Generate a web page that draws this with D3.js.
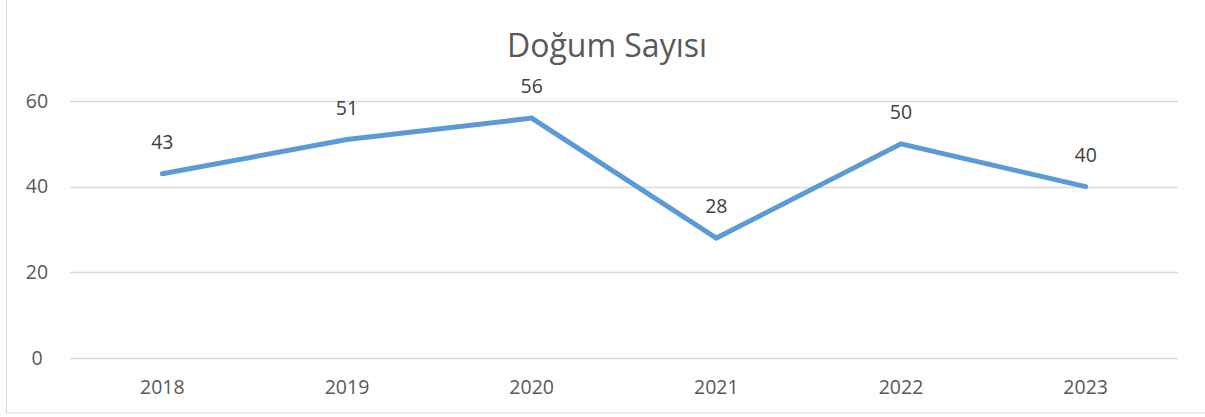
<!DOCTYPE html>
<html><head><meta charset="utf-8">
<script src="https://cdn.jsdelivr.net/npm/d3@7/dist/d3.min.js"></script>
<style>body{margin:0;background:#fff}svg{display:block}</style>
</head><body>
<svg id="c" width="1205" height="417"></svg>
<script>
const categories = ["2018","2019","2020","2021","2022","2023"];
const values = [43,51,56,28,50,40];
const yTicks = [0,20,40,60];
const title = "Doğum Sayısı";

const svg = d3.select("#c");
const W = 1205, H = 417;
const font = "'Open Sans', 'Noto Sans', sans-serif";
svg.append("rect").attr("x",6.5).attr("y",-1).attr("width",W).attr("height",414)
  .attr("fill","#fff").attr("stroke","#d9d9d9").attr("stroke-width",1);

const x = d3.scaleBand().domain(categories).range([70,1178]);
const y = d3.scaleLinear().domain([0,60]).range([358,101]);

const grid = svg.append("g");
grid.selectAll("line").data(yTicks).join("line")
  .attr("x1",70).attr("x2",1178)
  .attr("y1",d=>Math.round(y(d))+0.5).attr("y2",d=>Math.round(y(d))+0.5)
  .attr("stroke","#d9d9d9").attr("stroke-width",1.5);

const yAxis = d3.axisLeft(y).tickValues(yTicks).tickSize(0).tickPadding(13);
const ya = svg.append("g").attr("transform","translate(50,0)").call(yAxis);
ya.select(".domain").remove();
ya.selectAll("text").attr("fill","#595959").style("font-family",font).style("font-size","19.5px").attr("text-anchor","middle");

const xAxis = d3.axisBottom(x).tickSize(0).tickPadding(22);
const xa = svg.append("g").attr("transform","translate(0,358)").call(xAxis);
xa.select(".domain").remove();
xa.selectAll("text").attr("fill","#595959").style("font-family",font).style("font-size","19.5px");

const cx = d => x(d) + x.bandwidth()/2;
const line = d3.line().x((d,i)=>cx(categories[i])).y(d=>y(d));
svg.append("path").datum(values).attr("d",line).attr("fill","none")
  .attr("stroke","#5b9bd5").attr("stroke-width",5).attr("stroke-linejoin","miter").attr("stroke-linecap","round");

svg.selectAll(".lbl").data(values).join("text").attr("class","lbl")
  .attr("x",(d,i)=>cx(categories[i])).attr("y",d=>y(d)-25)
  .attr("text-anchor","middle").attr("fill","#404040")
  .style("font-family",font).style("font-size","19.5px").text(d=>d);

svg.append("text").attr("x",607).attr("y",57).attr("text-anchor","middle")
  .attr("fill","#595959").style("font-family",font).style("font-size","32px").text(title);
</script>
</body></html>
